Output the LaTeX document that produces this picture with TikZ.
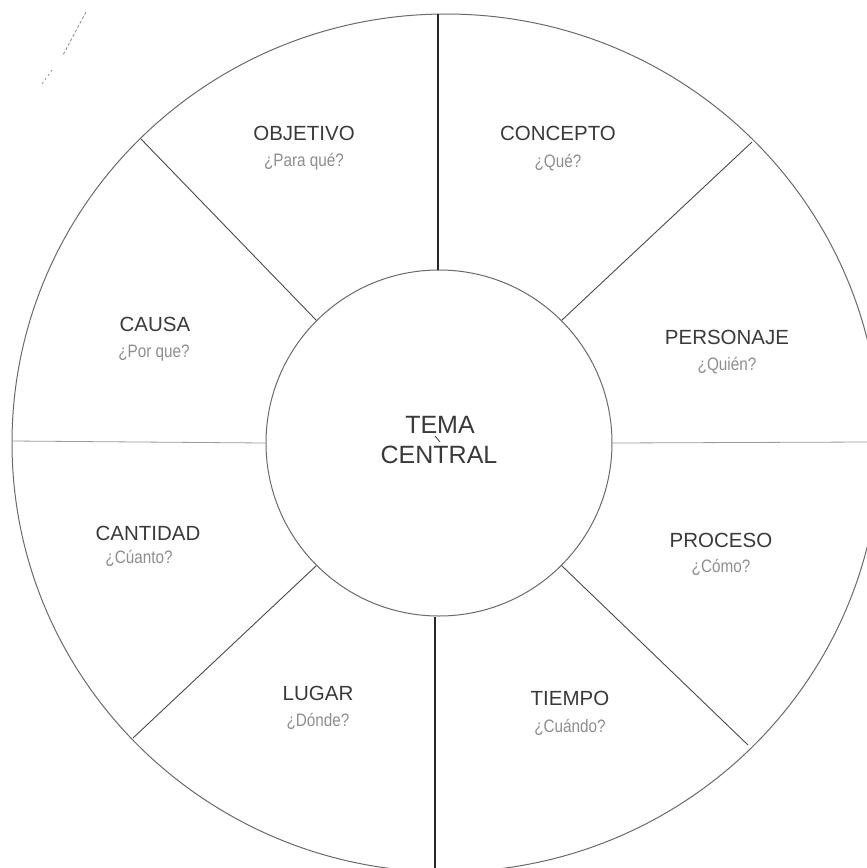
\documentclass[tikz,border=0pt]{standalone}
\usepackage{fontspec}
\setmainfont{Liberation Sans}
\newfontfamily\subfont{Liberation Sans}[FakeStretch=0.85]
\definecolor{titlecol}{HTML}{3A3A3A}
\definecolor{subcol}{HTML}{8E8E8E}
\definecolor{linecol}{HTML}{4A4A4A}
\definecolor{ringcol}{HTML}{6A6A6A}
\definecolor{hcol}{HTML}{9A9A9A}
\begin{document}
\begin{tikzpicture}[x=1pt,y=-1pt,
  ttl/.style={text=titlecol, font=\fontsize{20.5}{22}\selectfont, inner sep=0pt, anchor=base},
  sub/.style={text=subcol, font=\subfont\fontsize{18}{20}\selectfont, inner sep=0pt, anchor=base},
  big/.style={text=titlecol, font=\fontsize{25}{28}\selectfont, inner sep=0pt, anchor=base},
  spoke/.style={draw=linecol, line width=0.9pt},
  vspoke/.style={draw=black!85, line width=1.6pt},
  hspoke/.style={draw=hcol, line width=0.8pt},
  ring/.style={draw=ringcol, line width=1pt}]
\useasboundingbox (0,0) rectangle (867,868);
\clip (0,0) rectangle (867,868);
\fill[white] (0,0) rectangle (867,868);

% outer ring
\draw[ring] (446,443) ellipse [x radius=434, y radius=429];
% inner circle
\node[circle, ring, minimum size=346pt, inner sep=0pt] (c) at (439,443) {};

% outer end points of the spokes
\coordinate (otop) at (438,14);
\coordinate (obot) at (435,868);
\coordinate (oleft) at (12,441);
\coordinate (oright) at (867,442);
\coordinate (onw) at (141,139);
\coordinate (one) at (752,142);
\coordinate (osw) at (133,738);
\coordinate (ose) at (748,745);

% spokes
\draw[vspoke] (otop |- c.north) -- (otop);
\draw[vspoke] (obot |- c.south) -- (obot);
\draw[hspoke] (c.west) -- (oleft);
\draw[hspoke] (c.east) -- (oright);
\draw[spoke] (c.north west) -- (onw);
\draw[spoke] (c.north east) -- (one);
\draw[spoke] (c.south west) -- (osw);
\draw[spoke] (c.south east) -- (ose);

% labels
\node[ttl] (t1) at (304,140) {OBJETIVO};
\node[sub] (s1) at (304,166) {¿Para qué?};
\node[ttl] (t2) at (558,140) {CONCEPTO};
\node[sub] (s2) at (558,167) {¿Qué?};
\node[ttl] (t3) at (155,331) {CAUSA};
\node[sub] (s3) at (154,357) {¿Por que?};
\node[ttl] (t4) at (727,344) {PERSONAJE};
\node[sub] (s4) at (727,370) {¿Quién?};
\node[big] (t5) at (440,433) {TEMA};
\node[big] (t5b) at (439,463) {CENTRAL};
\node[ttl] (t6) at (148,540) {CANTIDAD};
\node[sub] (s6) at (139,563) {¿Cúanto?};
\node[ttl] (t7) at (721,547) {PROCESO};
\node[sub] (s7) at (721,572) {¿Cómo?};
\node[ttl] (t8) at (318,700) {LUGAR};
\node[sub] (s8) at (318,726) {¿Dónde?};
\node[ttl] (t9) at (570,705) {TIEMPO};
\node[sub] (s9) at (570,732) {¿Cuándo?};

% small scan marks
\draw[titlecol, line width=0.8pt] (435,436) -- (440,442);
\draw[black!45, line width=0.8pt, dash pattern=on 3pt off 2pt] (86,12) -- (63,55);
\draw[black!45, line width=0.8pt, dash pattern=on 2pt off 3pt] (52,70) -- (42,84);
\end{tikzpicture}
\end{document}
